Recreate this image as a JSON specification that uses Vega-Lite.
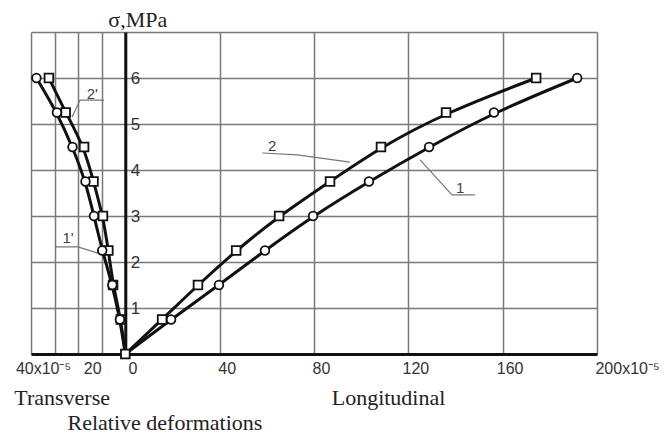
{
  "$schema": "https://vega.github.io/schema/vega-lite/v6.json",
  "width": 566,
  "height": 322,
  "autosize": "none",
  "padding": {"left": 31, "top": 32, "right": 70, "bottom": 83},
  "background": "white",
  "config": {"view": {"stroke": null}},
  "datasets": {
    "curves": [
      {"curve": "2", "x": 0, "y": 0, "m": "square"},
      {"curve": "2", "x": 15.6, "y": 0.75, "m": "square"},
      {"curve": "2", "x": 30.8, "y": 1.5, "m": "square"},
      {"curve": "2", "x": 47.0, "y": 2.25, "m": "square"},
      {"curve": "2", "x": 65.2, "y": 3.0, "m": "square"},
      {"curve": "2", "x": 86.8, "y": 3.75, "m": "square"},
      {"curve": "2", "x": 108.4, "y": 4.5, "m": "square"},
      {"curve": "2", "x": 136.0, "y": 5.25, "m": "square"},
      {"curve": "2", "x": 174.2, "y": 6.0, "m": "square"},
      {"curve": "1", "x": 0, "y": 0, "m": "none"},
      {"curve": "1", "x": 19.4, "y": 0.75, "m": "circle"},
      {"curve": "1", "x": 39.7, "y": 1.5, "m": "circle"},
      {"curve": "1", "x": 59.2, "y": 2.25, "m": "circle"},
      {"curve": "1", "x": 79.6, "y": 3.0, "m": "circle"},
      {"curve": "1", "x": 103.3, "y": 3.75, "m": "circle"},
      {"curve": "1", "x": 128.8, "y": 4.5, "m": "circle"},
      {"curve": "1", "x": 156.3, "y": 5.25, "m": "circle"},
      {"curve": "1", "x": 191.6, "y": 6.0, "m": "circle"},
      {"curve": "2'", "x": 0, "y": 0, "m": "none"},
      {"curve": "2'", "x": -1.9, "y": 0.75, "m": "square"},
      {"curve": "2'", "x": -5.2, "y": 1.5, "m": "square"},
      {"curve": "2'", "x": -7.2, "y": 2.25, "m": "square"},
      {"curve": "2'", "x": -9.5, "y": 3.0, "m": "square"},
      {"curve": "2'", "x": -13.5, "y": 3.75, "m": "square"},
      {"curve": "2'", "x": -17.5, "y": 4.5, "m": "square"},
      {"curve": "2'", "x": -25.3, "y": 5.25, "m": "square"},
      {"curve": "2'", "x": -32.4, "y": 6.0, "m": "square"},
      {"curve": "1'", "x": 0, "y": 0, "m": "none"},
      {"curve": "1'", "x": -2.3, "y": 0.75, "m": "circle"},
      {"curve": "1'", "x": -5.5, "y": 1.5, "m": "circle"},
      {"curve": "1'", "x": -9.8, "y": 2.25, "m": "circle"},
      {"curve": "1'", "x": -13.3, "y": 3.0, "m": "circle"},
      {"curve": "1'", "x": -16.9, "y": 3.75, "m": "circle"},
      {"curve": "1'", "x": -22.4, "y": 4.5, "m": "circle"},
      {"curve": "1'", "x": -29.0, "y": 5.25, "m": "circle"},
      {"curve": "1'", "x": -37.7, "y": 6.0, "m": "circle"}
    ],
    "leaders": [
      {"g": "2'", "o": 1, "x": -9.0, "y": 5.52},
      {"g": "2'", "o": 2, "x": -19.2, "y": 5.52},
      {"g": "2'", "o": 3, "x": -22.6, "y": 5.15},
      {"g": "1'", "o": 1, "x": -29.8, "y": 2.33},
      {"g": "1'", "o": 2, "x": -20.1, "y": 2.33},
      {"g": "1'", "o": 3, "x": -10.3, "y": 2.17},
      {"g": "2", "o": 1, "x": 58.1, "y": 4.37},
      {"g": "2", "o": 2, "x": 72.9, "y": 4.33},
      {"g": "2", "o": 3, "x": 95.2, "y": 4.17},
      {"g": "1", "o": 1, "x": 125.0, "y": 4.22},
      {"g": "1", "o": 2, "x": 138.5, "y": 3.46},
      {"g": "1", "o": 3, "x": 148.3, "y": 3.46}
    ],
    "labels": [
      {"t": "2'", "x": -14.0, "y": 5.65},
      {"t": "1'", "x": -24.3, "y": 2.52},
      {"t": "2", "x": 62.3, "y": 4.52},
      {"t": "1", "x": 142.0, "y": 3.61}
    ],
    "captions": [
      {"t": "Transverse", "x": -26.8, "y": -0.96},
      {"t": "Longitudinal", "x": 111.6, "y": -0.96},
      {"t": "Relative deformations", "x": 16.8, "y": -1.5}
    ]
  },
  "encoding": {
    "x": {
      "field": "x", "type": "quantitative",
      "scale": {"domain": [-40, 200], "nice": false, "zero": false},
      "axis": {
        "title": null,
        "values": [-40, -30, -20, -10, 0, 40, 80, 120, 160, 200],
        "grid": true, "gridColor": "#7a7a7a", "gridWidth": 1.5,
        "domainColor": "#111", "domainWidth": 3,
        "ticks": false,
        "labelPadding": 6,
        "labelFont": "Liberation Sans", "labelFontSize": 16, "labelColor": "#333",
        "labelExpr": "datum.value == -40 ? '40x10⁻⁵' : datum.value == -20 ? '20' : datum.value == 200 ? '200x10⁻⁵' : (datum.value == -30 || datum.value == -10) ? '' : datum.label",
        "labelOffset": {"condition": [{"test": "datum.value == -40", "value": 12}, {"test": "datum.value == -20", "value": 14}, {"test": "datum.value == 200", "value": 30}], "value": 7},
        "labelFlush": false, "labelOverlap": false, "labelBound": false
      }
    },
    "y": {
      "field": "y", "type": "quantitative",
      "scale": {"domain": [0, 7], "nice": false, "zero": false},
      "axis": {
        "orient": "right", "offset": -471.7,
        "values": [1, 2, 3, 4, 5, 6, 7],
        "labelExpr": "datum.value == 7 ? '' : datum.label",
        "grid": true, "gridColor": "#7a7a7a", "gridWidth": 1.5,
        "domainColor": "#111", "domainWidth": 3,
        "ticks": false, "labelPadding": 5,
        "labelFont": "Liberation Sans", "labelFontSize": 17, "labelColor": "#333",
        "title": "σ,MPa", "titleAngle": 0, "titleX": 12, "titleY": -13,
        "titleAlign": "center", "titleBaseline": "middle",
        "titleFont": "Liberation Serif", "titleFontSize": 22, "titleFontWeight": "normal", "titleColor": "#222"
      }
    }
  },
  "layer": [
    {
      "data": {"name": "leaders"},
      "mark": {"type": "line", "color": "#777", "strokeWidth": 1.2},
      "encoding": {"detail": {"field": "g"}, "order": {"field": "o"}}
    },
    {
      "data": {"name": "curves"},
      "mark": {"type": "line", "color": "#111", "strokeWidth": 3, "interpolate": "basis"},
      "encoding": {"detail": {"field": "curve"}}
    },
    {
      "data": {"name": "curves"},
      "transform": [{"filter": "datum.m != 'none'"}],
      "mark": {"type": "point", "filled": true, "fill": "white", "stroke": "#111", "strokeWidth": 1.8, "size": 75, "opacity": 1},
      "encoding": {
        "shape": {"field": "m", "type": "nominal", "scale": {"domain": ["circle", "square"], "range": ["circle", "square"]}, "legend": null}
      }
    },
    {
      "data": {"name": "labels"},
      "mark": {"type": "text", "font": "Liberation Sans", "fontSize": 15, "color": "#444", "align": "center", "baseline": "middle"},
      "encoding": {"text": {"field": "t"}}
    },
    {
      "data": {"name": "captions"},
      "mark": {"type": "text", "font": "Liberation Serif", "fontSize": 22, "color": "#222", "align": "center", "baseline": "middle"},
      "encoding": {"text": {"field": "t"}}
    }
  ]
}
